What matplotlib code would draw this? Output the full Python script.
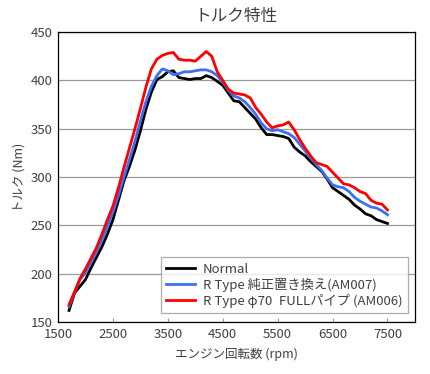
import numpy as np
import matplotlib
matplotlib.use("Agg")
import matplotlib.pyplot as plt

plt.rcParams['font.family'] = ['Noto Sans CJK JP', 'DejaVu Sans']

# engine speed (rpm)
rpm = np.arange(1700, 7501, 100)

normal = [162, 180, 187, 194, 206, 217, 228, 241, 256, 276,
          296, 311, 328, 348, 370, 388, 401, 404, 409, 410,
          403, 402, 401, 402, 402, 405, 403, 399, 395, 387,
          379, 378, 372, 366, 360, 351, 344, 344, 343, 342,
          340, 331, 326, 322, 316, 311, 306, 298, 289, 285,
          281, 277, 271, 267, 262, 260, 256, 254, 252]

rtype_stock = [166, 181, 194, 201, 212, 223, 235, 249, 264, 281,
               300, 318, 337, 358, 378, 394, 405, 412, 410, 406,
               407, 409, 409, 410, 411, 411, 409, 405, 398, 390,
               384, 382, 378, 372, 365, 356, 350, 348, 349, 347,
               345, 341, 334, 327, 320, 313, 307, 299, 292, 290,
               289, 285, 279, 275, 272, 269, 268, 265, 261]

rtype_full = [168, 181, 195, 205, 216, 227, 241, 256, 270, 289,
              310, 330, 350, 371, 393, 412, 422, 426, 428, 429,
              422, 421, 421, 420, 425, 430, 425, 409, 400, 391,
              387, 386, 385, 382, 372, 365, 357, 351, 353, 354,
              357, 349, 339, 330, 322, 315, 313, 311, 305, 299,
              293, 292, 289, 285, 283, 276, 273, 272, 266]

labels = ["Normal", "R Type 純正置き換え(AM007)", "R Type φ70\u2002FULLパイプ (AM006)"]
colors = ["#000000", "#3d6ff5", "#ff0000"]

fig = plt.figure(figsize=(4.3, 3.74), dpi=100)
ax = fig.add_axes([0.135, 0.139, 0.83, 0.775])

for y, lab, c in zip([normal, rtype_stock, rtype_full], labels, colors):
    ax.plot(rpm, y, color=c, lw=2.0, label=lab, solid_joinstyle='round')

ax.set_xlim(1500, 8000)
ax.set_ylim(150, 450)
ax.set_xticks(np.arange(1500, 7501, 1000))
ax.set_yticks(np.arange(150, 451, 50))
ax.yaxis.grid(True, color="#9a9a9a", lw=0.9)
ax.set_axisbelow(True)
ax.tick_params(axis='x', direction='in', length=3, color="#999999", labelsize=9.5, labelcolor="#404040", pad=4)
ax.tick_params(axis='y', length=0, labelsize=9.5, labelcolor="#404040", pad=4)
for s in ax.spines.values():
    s.set_color("#000000")
    s.set_linewidth(0.9)

ax.set_title("トルク特性", fontsize=12, color="#404040", pad=8)
ax.set_xlabel("エンジン回転数 (rpm)", fontsize=9, color="#404040", labelpad=5)
ax.set_ylabel("トルク (Nm)", fontsize=9, color="#404040", labelpad=4)

leg = ax.legend(loc='lower right', bbox_to_anchor=(0.98, 0.031), borderaxespad=0,
                fontsize=9.5, frameon=True, fancybox=False, handlelength=2.2,
                handletextpad=0.6, borderpad=0.4, labelspacing=0.15)
leg.get_frame().set_edgecolor("#999999")
leg.get_frame().set_linewidth(0.9)
for t in leg.get_texts():
    t.set_color("#404040")

fig.savefig("out.png", dpi=100)
